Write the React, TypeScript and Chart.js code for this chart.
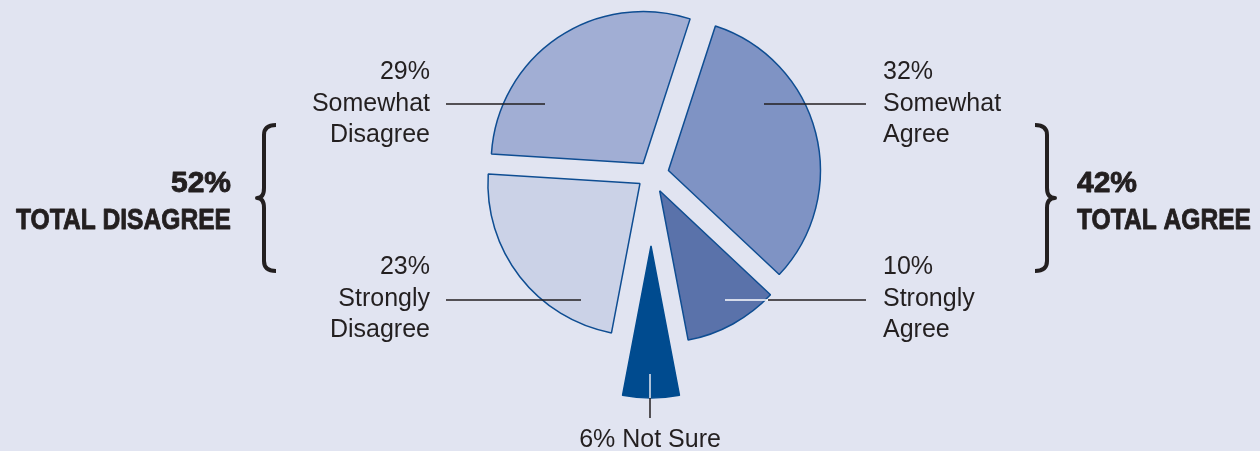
import React, { useEffect, useRef } from "react";
import { Chart, registerables } from "chart.js";

Chart.register(...registerables);

// ---- data ----
const categories = ["Somewhat Agree", "Strongly Agree", "Not Sure", "Strongly Disagree", "Somewhat Disagree"];
const values = [32, 10, 6, 23, 29];
const agreeIdx = [0, 1];
const disagreeIdx = [3, 4];
const totalAgreeLabel = "TOTAL AGREE";
const totalDisagreeLabel = "TOTAL DISAGREE";

// ---- styles / layout ----
const BG = "#E1E4F1";
const colors = ["#7F93C4", "#5A72AA", "#004B8F", "#CBD2E7", "#A1AED4"];
const borders = ["#0E4D92", "#0E4D92", "#004B8F", "#0E4D92", "#0E4D92"];
const explode = [18, 18, 71, 14, 14];
const TEXT = "#231F20";
const smallFont = "25px 'Liberation Sans', Arial, sans-serif";
const bigFont = "bold 30px 'Liberation Sans', Arial, sans-serif";
const condense = 0.82;

type LabelLayout = {
  mode: "stack" | "inline";
  x: number;
  align: CanvasTextAlign;
  baselines: number[];
  lines: { x1: number; x2: number; y1: number; y2: number; color: string }[];
};

const labelLayout: LabelLayout[] = [
  {
    mode: "stack", x: 883, align: "left", baselines: [79, 111, 142],
    lines: [{ x1: 764, x2: 866, y1: 104, y2: 104, color: TEXT }],
  },
  {
    mode: "stack", x: 883, align: "left", baselines: [274, 306, 337],
    lines: [
      { x1: 725, x2: 768, y1: 300, y2: 300, color: "#FFFFFF" },
      { x1: 768, x2: 866, y1: 300, y2: 300, color: TEXT },
    ],
  },
  {
    mode: "inline", x: 650, align: "center", baselines: [447],
    lines: [
      { x1: 650, x2: 650, y1: 374, y2: 398, color: "#E8EAF2" },
      { x1: 650, x2: 650, y1: 398, y2: 418, color: TEXT },
    ],
  },
  {
    mode: "stack", x: 430, align: "right", baselines: [274, 306, 337],
    lines: [{ x1: 446, x2: 581, y1: 300, y2: 300, color: TEXT }],
  },
  {
    mode: "stack", x: 430, align: "right", baselines: [79, 111, 142],
    lines: [{ x1: 446, x2: 545, y1: 104, y2: 104, color: TEXT }],
  },
];

function drawBrace(ctx: CanvasRenderingContext2D, tipX: number, stemX: number, pointX: number, top: number, mid: number, bottom: number) {
  const r = 10;
  ctx.beginPath();
  ctx.moveTo(tipX, top);
  ctx.quadraticCurveTo(stemX, top, stemX, top + r);
  ctx.lineTo(stemX, mid - r);
  ctx.quadraticCurveTo(stemX, mid, pointX, mid);
  ctx.quadraticCurveTo(stemX, mid, stemX, mid + r);
  ctx.lineTo(stemX, bottom - r);
  ctx.quadraticCurveTo(stemX, bottom, tipX, bottom);
  ctx.stroke();
}

function fillScaled(ctx: CanvasRenderingContext2D, text: string, x: number, y: number, align: CanvasTextAlign, sx: number) {
  ctx.save();
  ctx.translate(x, y);
  ctx.scale(sx, 1);
  ctx.textAlign = align;
  ctx.lineWidth = 0.9;
  ctx.strokeStyle = TEXT;
  ctx.lineJoin = "round";
  ctx.fillText(text, 0, 0);
  ctx.strokeText(text, 0, 0);
  ctx.restore();
}

const explodePlugin = {
  id: "explodeSlices",
  afterDatasetsUpdate(chart: any) {
    const meta = chart.getDatasetMeta(0);
    meta.data.forEach((arc: any, i: number) => {
      const mid = (arc.startAngle + arc.endAngle) / 2;
      arc.x += Math.cos(mid) * explode[i];
      arc.y += Math.sin(mid) * explode[i];
    });
  },
};

const annotationPlugin = {
  id: "annotations",
  afterDatasetsDraw(chart: any) {
    const ctx: CanvasRenderingContext2D = chart.ctx;
    ctx.save();
    // leader lines
    labelLayout.forEach((lay) => {
      lay.lines.forEach((ln) => {
        ctx.beginPath();
        ctx.strokeStyle = ln.color;
        ctx.lineWidth = 1.5;
        ctx.moveTo(ln.x1, ln.y1);
        ctx.lineTo(ln.x2, ln.y2);
        ctx.stroke();
      });
    });
    // labels
    ctx.fillStyle = TEXT;
    ctx.font = smallFont;
    ctx.textBaseline = "alphabetic";
    categories.forEach((cat, i) => {
      const lay = labelLayout[i];
      ctx.textAlign = lay.align;
      if (lay.mode === "inline") {
        ctx.fillText(`${values[i]}% ${cat}`, lay.x, lay.baselines[0]);
      } else {
        const lines = [`${values[i]}%`, ...cat.split(" ")];
        lines.forEach((t, k) => ctx.fillText(t, lay.x, lay.baselines[k]));
      }
    });
    // totals
    const totalDis = disagreeIdx.reduce((s, i) => s + values[i], 0);
    const totalAg = agreeIdx.reduce((s, i) => s + values[i], 0);
    ctx.font = bigFont;
    fillScaled(ctx, `${totalDis}%`, 231, 192, "right", 1);
    fillScaled(ctx, totalDisagreeLabel, 231, 229, "right", condense);
    fillScaled(ctx, `${totalAg}%`, 1077, 192, "left", 1);
    fillScaled(ctx, totalAgreeLabel, 1077, 229, "left", condense);
    // braces
    ctx.strokeStyle = TEXT;
    ctx.lineWidth = 4;
    ctx.lineCap = "butt";
    ctx.lineJoin = "round";
    drawBrace(ctx, 276, 264, 257, 125, 198, 271);
    drawBrace(ctx, 1035, 1047, 1055, 125, 198, 271);
    ctx.restore();
  },
};

export default function App() {
  const ref = useRef<HTMLCanvasElement | null>(null);
  useEffect(() => {
    if (!ref.current) return;
    const chart = new Chart(ref.current, {
      type: "pie",
      data: {
        labels: categories,
        datasets: [
          {
            data: values,
            backgroundColor: colors,
            borderColor: borders,
            borderWidth: 1.5,
            clip: false,
            rotation: 18,
          } as any,
        ],
      },
      options: {
        responsive: false,
        animation: false,
        events: [],
        radius: 152,
        rotation: 18,
        layout: { padding: { left: 42, right: 0, top: 0, bottom: 101 } },
        plugins: { legend: { display: false }, tooltip: { enabled: false } },
      } as any,
      plugins: [explodePlugin, annotationPlugin],
    });
    return () => chart.destroy();
  }, []);
  return (
    <div style={{ position: "absolute", left: 0, top: 0, width: 1260, height: 451, background: BG, overflow: "hidden" }}>
      <canvas ref={ref} width={1260} height={451} style={{ display: "block", width: 1260, height: 451 }} />
    </div>
  );
}
